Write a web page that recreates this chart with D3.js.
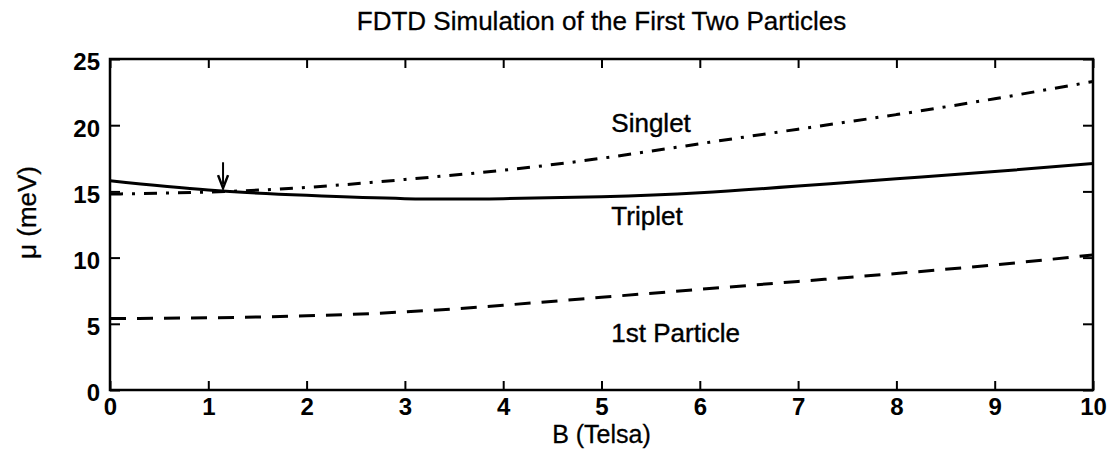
<!DOCTYPE html>
<html>
<head>
<meta charset="utf-8">
<script src="https://cdn.jsdelivr.net/npm/d3@7"></script>
<style>
  body { margin: 0; background: #fff; }
  svg { display: block; font-family: "Liberation Sans", Arial, Helvetica, sans-serif; }
</style>
</head>
<body>
<svg width="1115" height="456"></svg>
<script>
// values
const bField = [0, 1, 2, 3, 4, 5, 6, 7, 8, 9, 10];
const singlet = [14.8, 14.95, 15.3, 15.9, 16.6, 17.5, 18.6, 19.7, 20.8, 22.0, 23.3];
const triplet = [15.8, 15.1, 14.7, 14.45, 14.45, 14.6, 14.9, 15.4, 15.95, 16.5, 17.1];
const firstParticle = [5.4, 5.45, 5.6, 5.9, 6.4, 7.0, 7.6, 8.2, 8.8, 9.45, 10.2];
const xTicks = [0, 1, 2, 3, 4, 5, 6, 7, 8, 9, 10];
const yTicks = [0, 5, 10, 15, 20, 25];
const arrowAt = { b: 1.15, from: 17.2, to: 15.25 };

const svg = d3.select("svg");
const margin = { top: 59, right: 22, bottom: 66, left: 110 };
const width = +svg.attr("width") - margin.left - margin.right;
const height = +svg.attr("height") - margin.top - margin.bottom;
const g = svg.append("g").attr("transform", "translate(" + margin.left + "," + margin.top + ")");

const x = d3.scaleLinear().domain([0, 10]).range([0, width]);
const y = d3.scaleLinear().domain([0, 25]).range([height, 0]);

// axes: MATLAB-style box with inward ticks
function styleAxis(sel) {
  sel.select(".domain").remove();
  sel.selectAll(".tick line").attr("stroke", "#000").attr("stroke-width", 2);
  sel.selectAll(".tick text")
    .attr("fill", "#000")
    .style("font-size", "24px")
    .style("font-weight", "bold");
}

g.append("g")
  .attr("transform", "translate(0," + height + ")")
  .call(d3.axisBottom(x).tickValues(xTicks).tickSizeInner(-9).tickSizeOuter(0).tickPadding(8))
  .call(styleAxis);
g.append("g")
  .call(d3.axisTop(x).tickValues(xTicks).tickSizeInner(-9).tickSizeOuter(0).tickFormat(""))
  .call(styleAxis);
g.append("g")
  .call(d3.axisLeft(y).tickValues(yTicks).tickSizeInner(-10).tickSizeOuter(0).tickPadding(10))
  .call(styleAxis)
  .selectAll(".tick text").attr("dy", "0.45em");
g.append("g")
  .attr("transform", "translate(" + width + ",0)")
  .call(d3.axisRight(y).tickValues(yTicks).tickSizeInner(-10).tickSizeOuter(0).tickFormat(""))
  .call(styleAxis);

g.append("rect")
  .attr("width", width)
  .attr("height", height)
  .attr("fill", "none")
  .attr("stroke", "#000")
  .attr("stroke-width", 2.5);

const line = d3.line()
  .x(function (d, i) { return x(bField[i]); })
  .y(function (d) { return y(d); })
  .curve(d3.curveNatural);

g.append("path")
  .datum(singlet)
  .attr("d", line)
  .attr("fill", "none")
  .attr("stroke", "#000")
  .attr("stroke-width", 3)
  .attr("stroke-dasharray", "13,9,3,9");

g.append("path")
  .datum(triplet)
  .attr("d", line)
  .attr("fill", "none")
  .attr("stroke", "#000")
  .attr("stroke-width", 3);

g.append("path")
  .datum(firstParticle)
  .attr("d", line)
  .attr("fill", "none")
  .attr("stroke", "#000")
  .attr("stroke-width", 3)
  .attr("stroke-dasharray", "16,11");

// arrow marking the crossing
g.append("line")
  .attr("x1", x(arrowAt.b)).attr("x2", x(arrowAt.b))
  .attr("y1", y(arrowAt.from)).attr("y2", y(arrowAt.to) - 4)
  .attr("stroke", "#000").attr("stroke-width", 2);
g.append("path")
  .attr("d", "M" + (x(arrowAt.b) - 5) + "," + (y(arrowAt.to) - 13) +
             "L" + x(arrowAt.b) + "," + y(arrowAt.to) +
             "L" + (x(arrowAt.b) + 5) + "," + (y(arrowAt.to) - 13))
  .attr("fill", "none").attr("stroke", "#000").attr("stroke-width", 2.5);

// curve labels
const labels = [
  { text: "Singlet", b: 5.1, v: 19.5 },
  { text: "Triplet", b: 5.1, v: 12.5 },
  { text: "1st Particle", b: 5.1, v: 3.6 }
];
g.selectAll(".lbl")
  .data(labels)
  .enter().append("text")
  .attr("class", "lbl")
  .attr("x", function (d) { return x(d.b); })
  .attr("y", function (d) { return y(d.v); })
  .attr("fill", "#000")
  .attr("stroke", "#000")
  .attr("stroke-width", 0.4)
  .style("font-size", "26px")
  .text(function (d) { return d.text; });

// title and axis titles
svg.append("text")
  .attr("x", margin.left + width / 2)
  .attr("y", 30)
  .attr("text-anchor", "middle")
  .attr("stroke", "#000").attr("stroke-width", 0.3)
  .style("font-size", "26px")
  .text("FDTD Simulation of the First Two Particles");

svg.append("text")
  .attr("x", margin.left + width / 2)
  .attr("y", 443)
  .attr("text-anchor", "middle")
  .attr("stroke", "#000").attr("stroke-width", 0.3)
  .style("font-size", "25px")
  .text("B (Telsa)");

svg.append("text")
  .attr("transform", "translate(36," + (margin.top + height / 2 - 12) + ") rotate(-90)")
  .attr("text-anchor", "middle")
  .attr("stroke", "#000").attr("stroke-width", 0.3)
  .style("font-size", "26px")
  .text("μ (meV)");
</script>
</body>
</html>
